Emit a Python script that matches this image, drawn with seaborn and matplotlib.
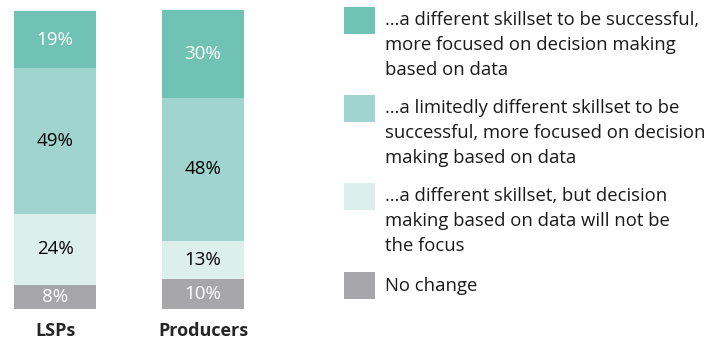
import matplotlib
matplotlib.use("Agg")
import matplotlib.pyplot as plt
import seaborn as sns
import numpy as np
import pandas as pd
from matplotlib.patches import Rectangle

groups = ["LSPs", "Producers"]
segments = [
    "…a different skillset to be successful,\nmore focused on decision making\nbased on data",
    "…a limitedly different skillset to be\nsuccessful, more focused on decision\nmaking based on data",
    "…a different skillset, but decision\nmaking based on data will not be\nthe focus",
    "No change",
]
values_skillset = [19, 30]
values_limited = [49, 48]
values_notfocus = [24, 13]
values_nochange = [8, 10]

colors = ["#70C2B4", "#A0D5CF", "#DDEFEA", "#A7A7A9"]
text_colors = ["white", "black", "black", "white"]

sns.set_theme(style="white")
plt.rcParams["font.family"] = ["Open Sans", "DejaVu Sans"]

fig = plt.figure(figsize=(7.08, 3.39), dpi=100)
ax = fig.add_axes([0, 30 / 339, 258 / 708, 299 / 339])

series = [values_skillset, values_limited, values_notfocus, values_nochange]
# stack from bottom: no change, not focus, limited, skillset
stack_order = [3, 2, 1, 0]
bottom = np.zeros(len(groups))
for idx in stack_order:
    vals = np.array(series[idx], dtype=float)
    df = pd.DataFrame({"group": groups, "value": vals})
    sns.barplot(data=df, x="group", y="value", ax=ax, color=colors[idx],
                bottom=bottom, width=0.554, saturation=1, linewidth=0)
    cont = ax.containers[-1]
    ax.bar_label(cont, labels=[f"{int(v)}%" for v in vals], label_type="center",
                 color=text_colors[idx], fontsize=13.5)
    bottom = bottom + vals

ax.set_xlim(-0.372, 1.372)
ax.set_ylim(0, 100.5)
ax.set_xlabel("")
ax.set_ylabel("")
ax.set_yticks([])
ax.tick_params(axis="x", length=0, pad=9)
for lab in ax.get_xticklabels():
    lab.set_fontweight("bold")
    lab.set_fontsize(13)
for s in ax.spines.values():
    s.set_visible(False)

# Legend drawn manually
W, H = 708, 339
legend_tops = [7, 95, 183, 272]
text_offsets = [4, 4, 4, 5]
for i, (lab, col) in enumerate(zip(segments, colors)):
    top = legend_tops[i]
    fig.patches.append(Rectangle((344 / W, 1 - (top + 27) / H), 31 / W, 27 / H,
                                 transform=fig.transFigure, facecolor=col,
                                 edgecolor="none"))
    fig.text(385 / W, 1 - (top + text_offsets[i]) / H, lab, ha="left", va="top",
             fontsize=13.3, color="#1a1a1a", linespacing=1.5)

fig.savefig("out.png", dpi=100)
